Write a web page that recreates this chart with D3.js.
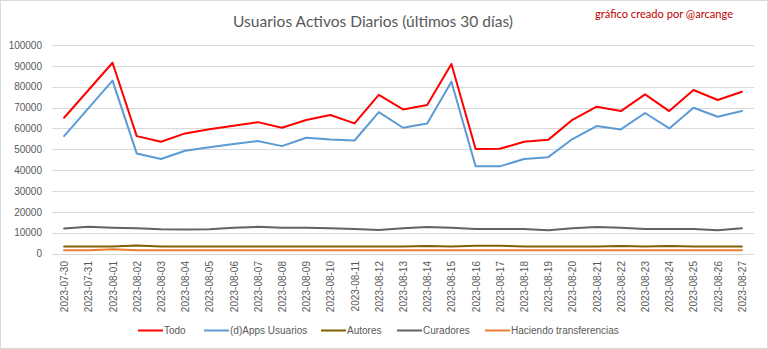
<!DOCTYPE html>
<html><head><meta charset="utf-8">
<script src="https://cdn.jsdelivr.net/npm/d3@7"></script>
<style>body{margin:0;background:#fff}svg{display:block}</style>
</head><body>
<script>
const dates = ["2023-07-30","2023-07-31","2023-08-01","2023-08-02","2023-08-03","2023-08-04","2023-08-05","2023-08-06","2023-08-07","2023-08-08","2023-08-09","2023-08-10","2023-08-11","2023-08-12","2023-08-13","2023-08-14","2023-08-15","2023-08-16","2023-08-17","2023-08-18","2023-08-19","2023-08-20","2023-08-21","2023-08-22","2023-08-23","2023-08-24","2023-08-25","2023-08-26","2023-08-27"];
const todo = [65100,78300,91500,56300,53600,57600,59600,61300,63000,60300,64000,66400,62400,76100,69100,71200,90900,50100,50200,53600,54500,64100,70400,68300,76300,68300,78400,73600,77600];
const dapps = [56300,69600,82900,48000,45300,49300,51000,52500,54000,51500,55500,54700,54200,67800,60300,62400,82400,41800,41800,45300,46200,54900,61100,59500,67400,60000,69900,65600,68300];
const autores = [3300,3300,3400,3800,3400,3300,3300,3300,3300,3300,3300,3300,3300,3300,3300,3600,3400,3700,3700,3400,3300,3300,3300,3600,3300,3600,3300,3300,3300];
const curadores = [12000,12800,12400,12100,11600,11500,11600,12300,12800,12400,12300,12100,11700,11300,12100,12700,12300,11700,11700,11700,11200,12100,12700,12300,11700,11700,11700,11200,12100];
const transfer = [1500,1600,2000,1500,1500,1500,1500,1500,1500,1500,1500,1500,1500,1500,1500,1500,1500,1500,1500,1500,1500,1500,1500,1500,1500,1500,1500,1500,1500];
const yTicks = [0,10000,20000,30000,40000,50000,60000,70000,80000,90000,100000];
const seriesNames = ["Todo","(d)Apps Usuarios","Autores","Curadores","Haciendo transferencias"];
const seriesColors = ["#ff0000","#5b9bd5","#7f6000","#636363","#ed7d31"];
const seriesData = [todo,dapps,autores,curadores,transfer];

const W=768,H=349;
const svg=d3.select("body").append("svg").attr("width",W).attr("height",H);
svg.append("rect").attr("x",0.5).attr("y",0.5).attr("width",W-1).attr("height",H-1).attr("fill","#fff").attr("stroke","#d9d9d9");

const x=d3.scalePoint().domain(dates).range([52,754]).padding(0.5);
const y=d3.scaleLinear().domain([0,100000]).range([253.5,45]);
const font="'Liberation Sans', Arial, sans-serif";

// gridlines
svg.append("g").selectAll("line").data(yTicks).join("line")
 .attr("x1",52).attr("x2",754).attr("y1",d=>Math.round(y(d))+0.5).attr("y2",d=>Math.round(y(d))+0.5)
 .attr("stroke","#d9d9d9").attr("stroke-width",1);

// y axis labels
const yAxis=d3.axisLeft(y).tickValues(yTicks).tickSize(0).tickPadding(0).tickFormat(d3.format("d"));
const ya=svg.append("g").attr("transform","translate(42,0)").call(yAxis);
ya.select(".domain").remove();
ya.selectAll("text").attr("font-family",font).attr("font-size","10px").attr("fill","#595959");

// x axis labels
const xAxis=d3.axisBottom(x).tickSize(0).tickPadding(0);
const xa=svg.append("g").attr("transform","translate(0,261)").call(xAxis);
xa.select(".domain").remove();
xa.selectAll("text").attr("font-family",font).attr("font-size","10px").attr("fill","#595959")
 .attr("text-anchor","end").attr("transform","rotate(-90)").attr("x",0).attr("y",0).attr("dy","0.35em");

// lines
const line=d3.line().x((d,i)=>x(dates[i])).y(d=>y(d));
const order=[4,2,3,1,0];
order.forEach(k=>{
 svg.append("path").datum(seriesData[k]).attr("d",line).attr("fill","none")
  .attr("stroke",seriesColors[k]).attr("stroke-width",2).attr("stroke-linejoin","round").attr("stroke-linecap","round");
});

// title
const title=svg.append("text").attr("x",373).attr("y",27).attr("text-anchor","middle")
 .attr("font-family","Lato, 'Open Sans', sans-serif").attr("font-size","18px").attr("fill","#595959")
 .text("Usuarios Activos Diarios (últimos 30 días)");
const tw=title.node().getComputedTextLength();
title.attr("font-size",(18*280/tw).toFixed(2)+"px");

const wm=svg.append("text").attr("x",733).attr("y",18).attr("text-anchor","end")
 .attr("font-family","Lato, 'Open Sans', sans-serif").attr("font-size","12px").attr("fill","#c00000")
 .text("gráfico creado por @arcange");
const ww=wm.node().getComputedTextLength();
wm.attr("font-size",(12*138/ww).toFixed(2)+"px");

// legend
const legX=[138,204,321,397,485];
const lg=svg.append("g");
seriesNames.forEach((n,i)=>{
 lg.append("line").attr("x1",legX[i]).attr("x2",legX[i]+25).attr("y1",330.5).attr("y2",330.5)
  .attr("stroke",seriesColors[i]).attr("stroke-width",2);
 lg.append("text").attr("x",legX[i]+26).attr("y",330).attr("dy","0.35em")
  .attr("font-family",font).attr("font-size","10px").attr("fill","#595959").text(n);
});
</script>
</body></html>
